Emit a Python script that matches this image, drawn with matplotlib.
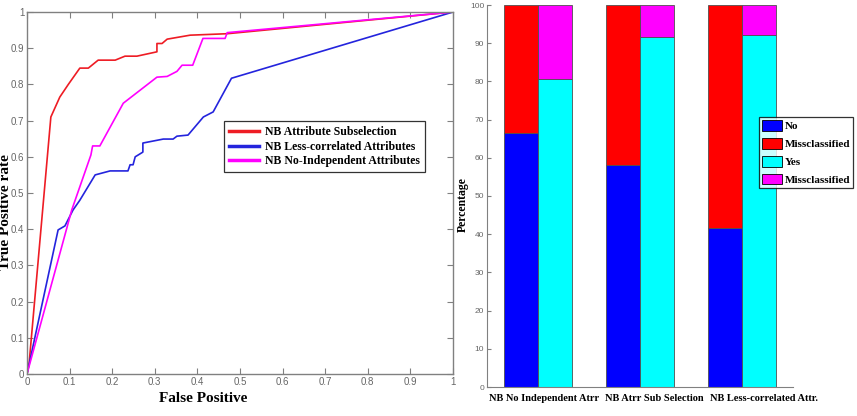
import numpy as np
import matplotlib
matplotlib.use("Agg")
import matplotlib.pyplot as plt

serif = ["Liberation Serif", "DejaVu Serif"]
sans = ["Liberation Sans", "DejaVu Sans"]
tick_gray = "#666666"
spine_gray = "#808080"

# ROC curves (false positive rate, true positive rate)
fp_subsel = [0, 0.005, 0.056, 0.077, 0.097, 0.124, 0.144, 0.167, 0.207, 0.23, 0.258,
             0.305, 0.305, 0.317, 0.329, 0.383, 0.47, 1.0]
tp_subsel = [0, 0.03, 0.71, 0.765, 0.80, 0.845, 0.845, 0.867, 0.867, 0.878, 0.878,
             0.89, 0.913, 0.913, 0.925, 0.936, 0.94, 1.0]

fp_lesscorr = [0, 0.073, 0.089, 0.108, 0.124, 0.16, 0.195, 0.237, 0.242, 0.249, 0.254,
               0.261, 0.272, 0.272, 0.32, 0.343, 0.352, 0.378, 0.414, 0.437, 0.48, 1.0]
tp_lesscorr = [0, 0.398, 0.409, 0.453, 0.48, 0.55, 0.561, 0.561, 0.578, 0.578, 0.60,
               0.605, 0.613, 0.638, 0.649, 0.649, 0.657, 0.66, 0.71, 0.724, 0.817, 1.0]

fp_noindep = [0, 0.105, 0.15, 0.154, 0.171, 0.226, 0.305, 0.329, 0.352, 0.364, 0.389,
              0.413, 0.465, 0.47, 1.0]
tp_noindep = [0, 0.453, 0.605, 0.63, 0.63, 0.748, 0.82, 0.822, 0.836, 0.853, 0.853,
              0.927, 0.927, 0.943, 1.0]

roc_labels = ["NB Attribute Subselection", "NB Less-correlated Attributes",
              "NB No-Independent Attributes"]

# stacked bars (percent)
models = ["NB No Independent Atrr", "NB Atrr Sub Selection", "NB Less-correlated Attr."]
no_pct = [66.5, 58.0, 41.6]
yes_pct = [80.5, 91.5, 92.2]
bar_labels = ["No", "Missclassified", "Yes", "Missclassified"]

fig = plt.figure(figsize=(8.57, 4.16), dpi=100)
W, H = 857.0, 416.0

# ---------------- left: ROC ----------------
ax1 = fig.add_axes([27 / W, 1 - 374 / H, 426 / W, 362 / H])
ax1.plot(fp_subsel, tp_subsel, color="#ee1c24", lw=1.2, label=roc_labels[0])
ax1.plot(fp_lesscorr, tp_lesscorr, color="#2424dd", lw=1.2, label=roc_labels[1])
ax1.plot(fp_noindep, tp_noindep, color="#ff00ff", lw=1.2, label=roc_labels[2])
ax1.set_xlim(0, 1)
ax1.set_ylim(0, 1)
ticks = np.arange(0, 1.01, 0.1)
ax1.set_xticks(ticks)
ax1.set_yticks(ticks)
tl = ["0"] + ["%.1f" % t for t in ticks[1:-1]] + ["1"]
ax1.set_xticklabels(tl)
ax1.set_yticklabels(tl)
ax1.tick_params(direction="in", top=True, right=True, length=4, color=spine_gray,
                labelsize=7, labelcolor=tick_gray, pad=2)
for lab in ax1.get_xticklabels() + ax1.get_yticklabels():
    lab.set_family(sans)
for s in ax1.spines.values():
    s.set_color(spine_gray)
    s.set_linewidth(1.0)
ax1.set_xlabel("False Positive", family=serif, fontweight="bold", fontsize=11)
ax1.xaxis.set_label_coords(203 / W, 1 - 398 / H, transform=fig.transFigure)
ax1.xaxis.label.set_va("center")
ax1.set_ylabel("True Positive rate", family=serif, fontweight="bold", fontsize=11)
ax1.yaxis.set_label_coords(6 / W, 1 - 212 / H, transform=fig.transFigure)
ax1.yaxis.label.set_va("center")
leg1 = ax1.legend(loc="upper left", bbox_to_anchor=(224 / W, 1 - 121 / H),
                  bbox_transform=fig.transFigure, prop={"family": serif, "weight": "bold", "size": 8.5},
                  frameon=True, fancybox=False, borderpad=0.45, labelspacing=0.2,
                  handlelength=2.5, handletextpad=0.5, borderaxespad=0)
leg1.get_frame().set_edgecolor("black")
leg1.get_frame().set_linewidth(0.9)
for ln in leg1.get_lines():
    ln.set_linewidth(2.5)

# ---------------- right: stacked bars ----------------
ax2 = fig.add_axes([487 / W, 1 - 387 / H, 306 / W, 382 / H])
x = np.arange(1, len(models) + 1)
w = 0.33
no_arr = np.array(no_pct)
yes_arr = np.array(yes_pct)
ec = "#505050"
b1 = ax2.bar(x - w / 2, no_arr, w, color="#0000ff", edgecolor=ec, lw=0.6)
b2 = ax2.bar(x - w / 2, 100 - no_arr, w, bottom=no_arr, color="#ff0000", edgecolor=ec, lw=0.6)
b3 = ax2.bar(x + w / 2, yes_arr, w, color="#00ffff", edgecolor=ec, lw=0.6)
b4 = ax2.bar(x + w / 2, 100 - yes_arr, w, bottom=yes_arr, color="#ff00ff", edgecolor=ec, lw=0.6)
ax2.set_xlim(0.5, 3.5)
ax2.set_ylim(0, 100)
ax2.set_yticks(np.arange(0, 101, 10))
# labels sit a little right of each group, as in the original
ax2.set_xticks(x + np.array([0.06, 0.14, 0.22]))
ax2.set_xticklabels(models, family=serif, fontweight="bold", fontsize=7.5)
ax2.tick_params(axis="x", length=0, pad=5)
ax2.tick_params(axis="y", direction="in", length=3, color=spine_gray,
                labelsize=6, labelcolor=tick_gray, pad=2)
for lab in ax2.get_yticklabels():
    lab.set_family(sans)
for side in ["top", "right"]:
    ax2.spines[side].set_visible(False)
for side in ["left", "bottom"]:
    ax2.spines[side].set_color(spine_gray)
ax2.set_ylabel("Percentage", family=serif, fontweight="bold", fontsize=8.5)
ax2.yaxis.set_label_coords(463 / W, 1 - 205 / H, transform=fig.transFigure)
ax2.yaxis.label.set_va("center")
leg2 = ax2.legend([b1, b2, b3, b4], bar_labels, loc="upper left",
                  bbox_to_anchor=(759 / W, 1 - 117 / H), bbox_transform=fig.transFigure,
                  prop={"family": serif, "weight": "bold", "size": 8},
                  frameon=True, fancybox=False, borderpad=0.3, labelspacing=0.6,
                  handlelength=1.8, handleheight=1.1, handletextpad=0.2, borderaxespad=0)
leg2.get_frame().set_edgecolor("black")
leg2.get_frame().set_linewidth(0.9)
for p in leg2.get_patches():
    p.set_edgecolor("black")

fig.savefig("out.png", dpi=100)
